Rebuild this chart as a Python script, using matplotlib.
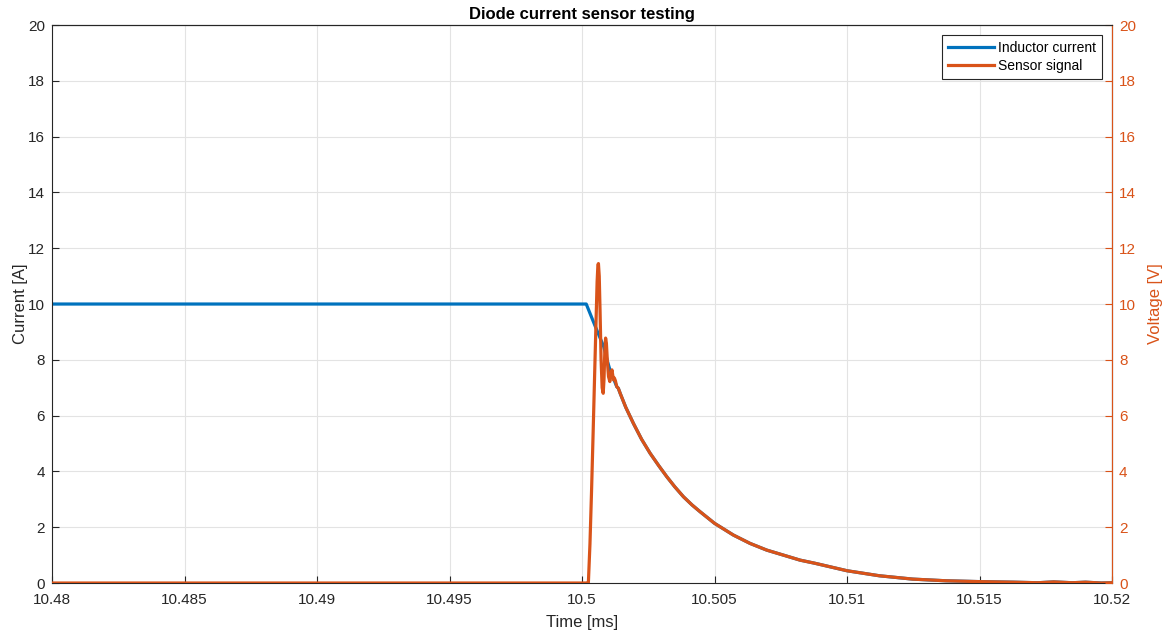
import numpy as np
import matplotlib as mpl
import matplotlib.pyplot as plt
from matplotlib.ticker import FormatStrFormatter, MultipleLocator

mpl.rc('font', family=['Liberation Sans', 'DejaVu Sans'], size=11)

# time in ms
t_spike = [10.48, 10.5002, 10.50024, 10.50030, 10.50036, 10.50042, 10.50048,
           10.50053, 10.50057, 10.50060, 10.50062, 10.50065, 10.50068,
           10.50072, 10.50076, 10.50080, 10.50083, 10.50086, 10.50089,
           10.50092, 10.50096, 10.50100, 10.50105, 10.50109, 10.50113,
           10.50116, 10.50119, 10.50122, 10.50126]
v_spike = [0.0, 0.0, 0.0, 1.4, 3.3, 5.4, 7.6,
           9.4, 10.8, 11.4, 11.45, 11.0, 9.8,
           8.0, 7.0, 6.8, 7.3, 8.3, 8.78,
           8.6, 7.9, 7.4, 7.22, 7.5, 7.64,
           7.45, 7.28, 7.35, 7.25]

t_ramp = [10.48, 10.50016, 10.50050, 10.50082, 10.50096, 10.50108, 10.50120]
i_ramp = [10.0, 10.0, 9.2, 8.47, 7.95, 7.55, 7.30]

t_decay = [10.50131, 10.50137, 10.50144, 10.50165, 10.50194, 10.50225,
           10.50257, 10.50290, 10.50320, 10.50350, 10.50383, 10.50415,
           10.50445, 10.505, 10.50571, 10.50634, 10.50697, 10.50760,
           10.50823, 10.50878, 10.51, 10.51122, 10.51248, 10.51374,
           10.515, 10.5163, 10.5172, 10.5178, 10.5185, 10.5190, 10.5196, 10.52]
y_decay = [7.04, 6.98, 6.80, 6.30, 5.72, 5.15,
           4.65, 4.20, 3.81, 3.45, 3.09, 2.80,
           2.56, 2.14, 1.72, 1.42, 1.18, 1.00,
           0.82, 0.71, 0.44, 0.26, 0.14, 0.08,
           0.05, 0.03, 0.01, 0.04, 0.01, 0.03, 0.0, 0.01]

blue = '#0072BD'
orange = '#D95319'
dark = '#262626'

t_inductor = np.array(t_ramp + t_decay)
i_inductor = np.array(i_ramp + y_decay)
t_sensor = np.array(t_spike + t_decay)
v_sensor = np.array(v_spike + y_decay)

fig = plt.figure(figsize=(11.66, 6.32), dpi=100)
ax = fig.add_axes([0.0446, 0.0775, 0.9091, 0.8829])
ax2 = ax.twinx()

l1, = ax.plot(t_inductor, i_inductor, color=blue, lw=2.3, label='Inductor current')
l2, = ax2.plot(t_sensor, v_sensor, color=orange, lw=2.3, label='Sensor signal')

ax.set_xlim(10.48, 10.52)
ax.set_ylim(0, 20)
ax2.set_ylim(0, 20)
ax.xaxis.set_major_locator(MultipleLocator(0.005))
ax.xaxis.set_major_formatter(FormatStrFormatter('%g'))
ax.yaxis.set_major_locator(MultipleLocator(2))
ax2.yaxis.set_major_locator(MultipleLocator(2))

ax.grid(True, color='#e3e3e3', lw=0.8)
ax.set_axisbelow(True)

ax.tick_params(direction='in', length=5, colors=dark, labelsize=11)
ax.tick_params(axis='x', top=False, pad=7)
ax.tick_params(axis='y', pad=5)
ax2.tick_params(direction='in', length=5, colors=orange, labelsize=11, pad=5)
for s in ['left', 'bottom', 'top']:
    ax.spines[s].set_color(dark)
ax2.spines['right'].set_color(orange)
ax2.spines['left'].set_visible(False)
ax2.spines['top'].set_color(dark)
ax2.spines['bottom'].set_visible(False)

ax.set_xlabel('Time [ms]', fontsize=12, color=dark, labelpad=6)
ax.set_ylabel('Current [A]', fontsize=12, color=dark, labelpad=0)
ax2.set_ylabel('Voltage [V]', fontsize=12, color=orange, labelpad=9)
ax.set_title('Diode current sensor testing', fontsize=12, fontweight='bold',
             color='black', pad=4)

leg = ax2.legend([l1, l2], ['Inductor current', 'Sensor signal'],
                 loc='upper right', fancybox=False, edgecolor=dark,
                 framealpha=1, fontsize=10, handlelength=3.3,
                 borderaxespad=0.7, labelspacing=0.3, borderpad=0.45,
                 handletextpad=0.3)
leg.get_frame().set_linewidth(0.8)

plt.savefig('out.png', dpi=100)
